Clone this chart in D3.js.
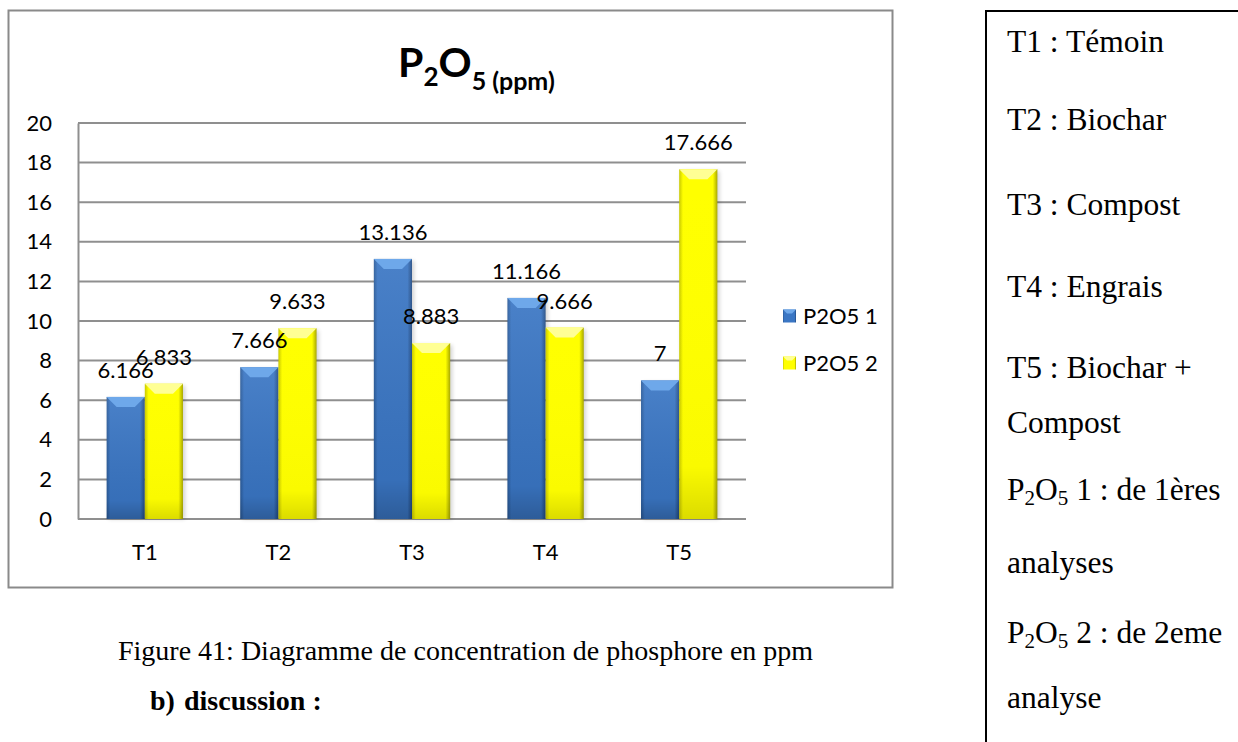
<!DOCTYPE html>
<html>
<head>
<meta charset="utf-8">
<script src="https://cdn.jsdelivr.net/npm/d3@7"></script>
<style>
  html, body { margin: 0; padding: 0; background: #ffffff; }
  svg { display: block; }
</style>
</head>
<body>
<svg id="fig" width="1238" height="742"></svg>
<script>
// Treatments and the two rounds of P2O5 measurements (ppm)
const categories = ["T1", "T2", "T3", "T4", "T5"];
const seriesNames = ["P2O5 1", "P2O5 2"];
const p2o5First = [6.166, 7.666, 13.136, 11.166, 7];
const p2o5Second = [6.833, 9.633, 8.883, 9.666, 17.666];
const yTicks = [0, 2, 4, 6, 8, 10, 12, 14, 16, 18, 20];

// Key of treatments shown in the side panel
const keyLines = [
  [{ t: "T1 : Témoin" }],
  [{ t: "T2 : Biochar" }],
  [{ t: "T3 : Compost" }],
  [{ t: "T4 : Engrais" }],
  [{ t: "T5 : Biochar +" }],
  [{ t: "Compost" }],
  [{ t: "P" }, { t: "2", sub: true }, { t: "O" }, { t: "5", sub: true }, { t: " 1 : de 1ères" }],
  [{ t: "analyses" }],
  [{ t: "P" }, { t: "2", sub: true }, { t: "O" }, { t: "5", sub: true }, { t: " 2 : de 2eme" }],
  [{ t: "analyse" }]
];
const keyBaselines = [52, 130, 215, 297, 378, 433, 500, 573, 643, 708];

const svg = d3.select("#fig");
const W = 1238, H = 742;
svg.append("rect").attr("width", W).attr("height", H).attr("fill", "#ffffff");

const defs = svg.append("defs");
const palette = [
  { base: "#3a76c4", light: "#6ea8ea", dark: "#2a5a98", edge: "#234c84" },
  { base: "#ffff00", light: "#ffff94", dark: "#c9c900", edge: "#a8a800" }
];
palette.forEach((p, i) => {
  const h = defs.append("linearGradient").attr("id", "side" + i)
    .attr("x1", 0).attr("x2", 1).attr("y1", 0).attr("y2", 0);
  h.append("stop").attr("offset", 0).attr("stop-color", p.dark);
  h.append("stop").attr("offset", 0.1).attr("stop-color", p.base);
  h.append("stop").attr("offset", 0.88).attr("stop-color", p.base);
  h.append("stop").attr("offset", 1).attr("stop-color", p.edge);
  const v = defs.append("linearGradient").attr("id", "shade" + i)
    .attr("x1", 0).attr("x2", 0).attr("y1", 0).attr("y2", 1);
  v.append("stop").attr("offset", 0).attr("stop-color", "#ffffff").attr("stop-opacity", i === 0 ? 0.08 : 0);
  v.append("stop").attr("offset", 0.85).attr("stop-color", "#000000").attr("stop-opacity", i === 0 ? 0.06 : 0.02);
  v.append("stop").attr("offset", 1).attr("stop-color", "#000000").attr("stop-opacity", i === 0 ? 0.22 : 0.14);
});
const blur = defs.append("filter").attr("id", "soft").attr("x", "-20%").attr("y", "-20%").attr("width", "140%").attr("height", "140%");
blur.append("feGaussianBlur").attr("stdDeviation", 2);

// Chart frame
svg.append("rect")
  .attr("x", 8.5).attr("y", 10.5).attr("width", 884).attr("height", 577)
  .attr("fill", "#ffffff").attr("stroke", "#8a8a8a").attr("stroke-width", 2);

const plot = { left: 78, right: 746, top: 123, bottom: 519 };
const x = d3.scaleBand().domain(categories).range([plot.left, plot.right]).paddingInner(0).paddingOuter(0);
const y = d3.scaleLinear().domain([0, 20]).range([plot.bottom, plot.top]);
const groupWidth = x.bandwidth() * 2 / 3.5;
const xs = d3.scaleBand().domain([0, 1]).range([0, groupWidth]);

const sansFont = "Lato, 'Open Sans', sans-serif";
const serifFont = "'Liberation Serif', 'Times New Roman', serif";
const chartFontSize = 22;

// Horizontal gridlines
svg.append("g").selectAll("line").data(yTicks).join("line")
  .attr("x1", plot.left).attr("x2", plot.right)
  .attr("y1", d => y(d)).attr("y2", d => y(d))
  .attr("stroke", "#8f8f8f").attr("stroke-width", 2);

// Value axis
const yAxis = svg.append("g").attr("transform", `translate(${plot.left},0)`)
  .call(d3.axisLeft(y).tickValues(yTicks).tickSize(0).tickPadding(26));
yAxis.select(".domain").attr("stroke", "#8f8f8f").attr("stroke-width", 2);
yAxis.selectAll("text").attr("font-family", sansFont)
  .attr("font-size", chartFontSize).attr("fill", "#000");

// Category axis
const xAxis = svg.append("g").attr("transform", `translate(0,${plot.bottom})`)
  .call(d3.axisBottom(x).tickSize(0).tickPadding(25));
xAxis.select(".domain").remove();
xAxis.selectAll("text").attr("font-family", sansFont)
  .attr("font-size", chartFontSize).attr("fill", "#000");

// Bars with a bevelled look
const rows = categories.map((c, i) => ({ c, v: [p2o5First[i], p2o5Second[i]] }));
const bars = [];
rows.forEach(r => r.v.forEach((v, s) => bars.push({ c: r.c, s, v })));
const barX = d => x(d.c) + (x.bandwidth() - groupWidth) / 2 + xs(d.s);

const gBars = svg.append("g");
// soft drop shadow
gBars.selectAll("rect.shadow").data(bars).join("rect").attr("class", "shadow")
  .attr("x", d => barX(d) + 2).attr("y", d => y(d.v) + 2)
  .attr("width", xs.bandwidth()).attr("height", d => y(0) - y(d.v) - 2)
  .attr("fill", "#000").attr("opacity", 0.18).attr("filter", "url(#soft)");
gBars.selectAll("rect.body").data(bars).join("rect").attr("class", "body")
  .attr("x", d => barX(d)).attr("y", d => y(d.v))
  .attr("width", xs.bandwidth()).attr("height", d => y(0) - y(d.v))
  .attr("fill", d => `url(#side${d.s})`);
gBars.selectAll("rect.shade").data(bars).join("rect").attr("class", "shade")
  .attr("x", d => barX(d)).attr("y", d => y(d.v))
  .attr("width", xs.bandwidth()).attr("height", d => y(0) - y(d.v))
  .attr("fill", d => `url(#shade${d.s})`);
const bevel = 10;
gBars.selectAll("path.top").data(bars).join("path").attr("class", "top")
  .attr("d", d => {
    const x0 = barX(d), x1 = x0 + xs.bandwidth(), y0 = y(d.v);
    return `M${x0},${y0}L${x1},${y0}L${x1 - bevel},${y0 + bevel}L${x0 + bevel},${y0 + bevel}Z`;
  })
  .attr("fill", d => palette[d.s].light);

// Data labels
svg.append("g").selectAll("text").data(bars).join("text")
  .attr("x", d => barX(d) + xs.bandwidth() / 2)
  .attr("y", d => y(d.v) - 19)
  .attr("text-anchor", "middle")
  .attr("font-family", sansFont).attr("font-size", chartFontSize)
  .attr("fill", "#000")
  .text(d => d.v);

// Chart title
const title = svg.append("text").attr("x", 398).attr("y", 77)
  .attr("font-family", sansFont).attr("font-weight", "bold")
  .attr("font-size", 41).attr("fill", "#000");
title.append("tspan").text("P");
title.append("tspan").attr("font-size", 26).attr("dy", 9).text("2");
title.append("tspan").attr("dy", -9).text("O");
title.append("tspan").attr("font-size", 25).attr("dy", 13).text("5 (ppm)");

// Legend
const legend = svg.append("g");
seriesNames.forEach((name, i) => {
  const cy = 316 + i * 47;
  legend.append("rect").attr("x", 783).attr("y", cy - 6.5).attr("width", 13).attr("height", 13)
    .attr("fill", `url(#side${i})`);
  legend.append("path")
    .attr("d", `M783,${cy - 6.5}L796,${cy - 6.5}L792,${cy - 2.5}L787,${cy - 2.5}Z`)
    .attr("fill", palette[i].light);
  legend.append("text").attr("x", 803).attr("y", cy).attr("dy", "0.35em")
    .attr("font-family", sansFont).attr("font-size", chartFontSize)
    .attr("fill", "#000").text(name);
});

// Side panel with the key
svg.append("path").attr("d", "M1238,11L986,11L986,742")
  .attr("fill", "none").attr("stroke", "#000").attr("stroke-width", 2);
const key = svg.append("g");
keyLines.forEach((parts, i) => {
  const t = key.append("text").attr("x", 1007).attr("y", keyBaselines[i])
    .attr("font-family", serifFont)
    .attr("font-size", 31.5).attr("fill", "#000");
  let lowered = false;
  parts.forEach(p => {
    const ts = t.append("tspan").text(p.t);
    if (p.sub) { ts.attr("font-size", 21).attr("dy", lowered ? 0 : 5); lowered = true; }
    else if (lowered) { ts.attr("dy", -5); lowered = false; }
  });
});

// Caption and section heading
svg.append("text").attr("x", 118).attr("y", 660)
  .attr("font-family", serifFont)
  .attr("font-size", 28).attr("fill", "#000")
  .text("Figure 41: Diagramme de concentration de phosphore en ppm");
const heading = svg.append("text").attr("y", 710)
  .attr("font-family", serifFont)
  .attr("font-weight", "bold").attr("font-size", 28).attr("fill", "#000");
heading.append("tspan").attr("x", 150).text("b)");
heading.append("tspan").attr("x", 184).text("discussion :");
</script>
</body>
</html>
